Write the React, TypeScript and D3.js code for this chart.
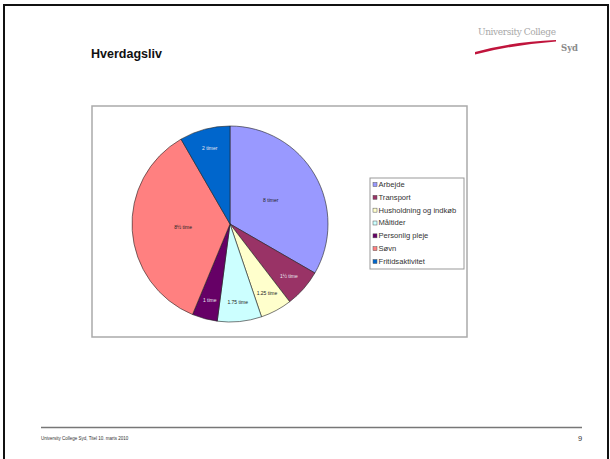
import * as d3 from "d3";

const categories = [
  "Arbejde",
  "Transport",
  "Husholdning og indkøb",
  "Måltider",
  "Personlig pleje",
  "Søvn",
  "Fritidsaktivitet",
];
const hours = [8, 1.5, 1.25, 1.75, 1, 8.5, 2];
const sliceLabels = ["8 timer", "1½ time", "1.25 time", "1.75 time", "1 time", "8½ time", "2 timer"];
const colors = ["#9999FF", "#993366", "#FFFFCC", "#CCFFFF", "#660066", "#FF8080", "#0066CC"];
const darkSlices = ["Transport", "Personlig pleje", "Fritidsaktivitet"];

export default function App() {
  const width = 610;
  const height = 459;

  const cx = 230;
  const cy = 224;
  const radius = 98;

  const data = categories.map((c, i) => ({ name: c, value: hours[i], label: sliceLabels[i], color: colors[i] }));

  const pie = d3
    .pie<any>()
    .value((d) => d.value)
    .sort(null)
    .startAngle(0)
    .endAngle(2 * Math.PI);
  const arcs = pie(data);
  const arcGen = d3.arc<any>().innerRadius(0).outerRadius(radius);

  const legendY = d3
    .scalePoint<string>()
    .domain(categories)
    .range([185, 262]);

  // big slices get the label near the middle, small ones further out
  const labelPos = (a: any) => {
    const mid = (a.startAngle + a.endAngle) / 2;
    const span = a.endAngle - a.startAngle;
    const r = span > Math.PI / 2 ? radius * 0.48 : radius * 0.8;
    return [Math.sin(mid) * r, -Math.cos(mid) * r];
  };

  return (
    <svg
      width={width}
      height={height}
      style={{ position: "absolute", left: 0, top: 0, background: "#fff" }}
      fontFamily="'Liberation Sans', Arial, sans-serif"
    >
      <defs>
        <clipPath id="legend-clip">
          <rect x={370} y={178} width={93} height={91} />
        </clipPath>
      </defs>

      {/* slide frame */}
      <line x1={4} y1={5} x2={608} y2={5} stroke="#111" strokeWidth={2} />
      <line x1={4} y1={4} x2={4} y2={459} stroke="#111" strokeWidth={2} />
      <line x1={608} y1={4} x2={608} y2={459} stroke="#111" strokeWidth={2} />

      {/* logo */}
      <text x={478} y={35} fontSize={9} fill="#a8a8a8" fontFamily="'DejaVu Serif', serif" textLength={78}>
        University College
      </text>
      <path d="M475,52 Q510,42 556,40 L556,41.5 Q512,45 475,54.5 Z" fill="#c0143c" />
      <text x={561} y={51} fontSize={8.5} fill="#8a8a8a" fontWeight="bold" fontFamily="'DejaVu Serif', serif">
        Syd
      </text>

      <text x={91} y={58} fontSize={12.5} fontWeight="bold" fill="#111">
        Hverdagsliv
      </text>

      {/* chart object */}
      <rect x={92} y={106} width={375} height={231} fill="#fff" stroke="#aaa" strokeWidth={1.5} />

      <g transform={`translate(${cx}, ${cy})`}>
        {arcs.map((a) => (
          <path key={a.data.name} d={arcGen(a) || ""} fill={a.data.color} stroke="#222" strokeWidth={0.6} />
        ))}
        {arcs.map((a) => {
          const [x, y] = labelPos(a);
          return (
            <text
              key={a.data.name + "-l"}
              x={x}
              y={y + 2}
              textAnchor="middle"
              fontSize={5}
              fill={darkSlices.includes(a.data.name) ? "#e8e8f0" : "#222"}
            >
              {a.data.label}
            </text>
          );
        })}
      </g>

      {/* legend */}
      <rect x={370} y={178} width={94} height={91} fill="#fff" stroke="#999" strokeWidth={1} />
      <g clipPath="url(#legend-clip)">
        {categories.map((c, i) => (
          <g key={c} transform={`translate(373, ${legendY(c)})`}>
            <rect x={0} y={-2.5} width={4} height={4} fill={colors[i]} stroke="#555" strokeWidth={0.5} />
            <text x={5.5} y={1.9} fontSize={7.6} fill="#333">
              {c}
            </text>
          </g>
        ))}
      </g>

      {/* footer */}
      <line x1={41} y1={427.5} x2={582} y2={427.5} stroke="#777" strokeWidth={1.5} />
      <text x={41} y={440} fontSize={4.5} fill="#333">
        University College Syd, Titel 10. marts 2010
      </text>
      <text x={578} y={441} fontSize={7.5} fill="#333">
        9
      </text>
    </svg>
  );
}
